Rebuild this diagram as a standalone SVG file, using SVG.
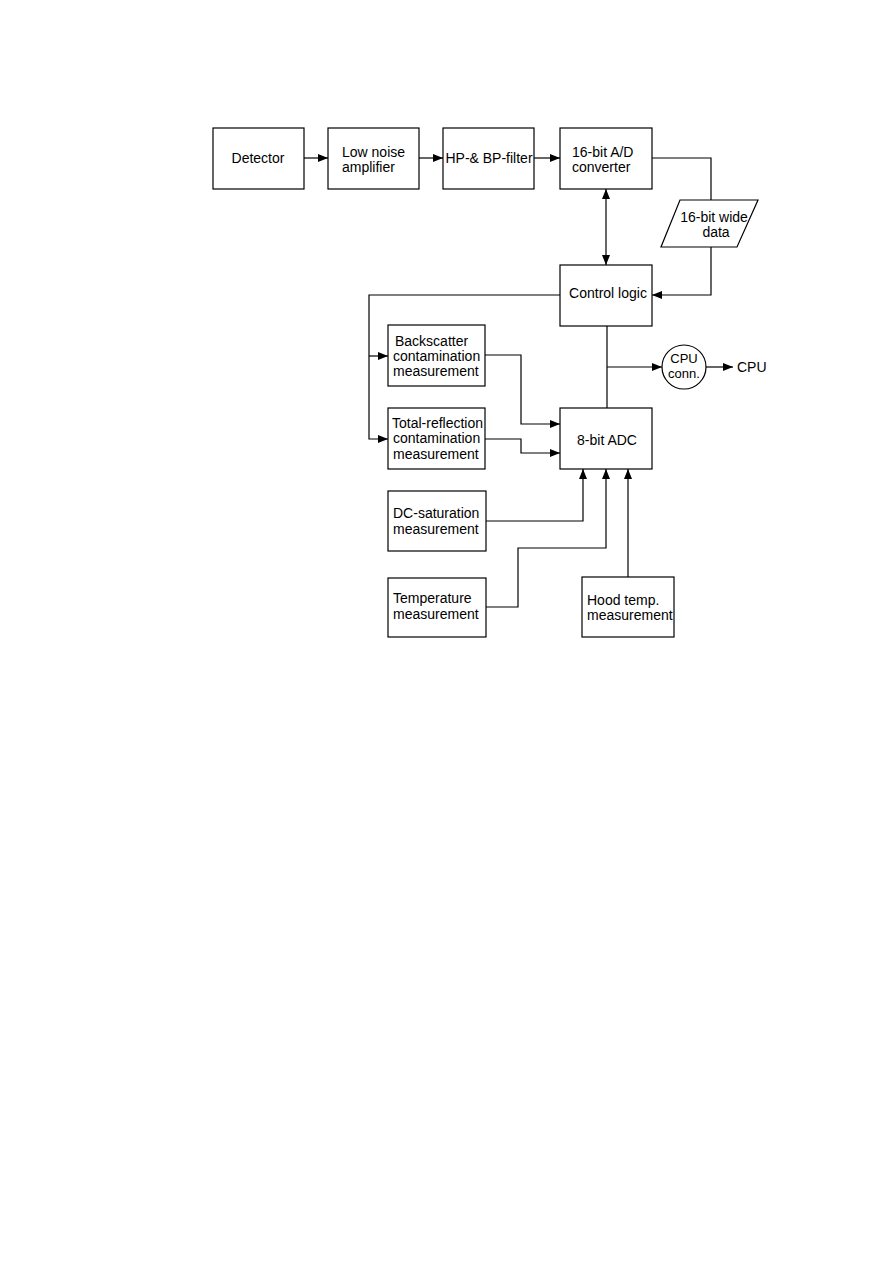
<svg xmlns="http://www.w3.org/2000/svg" width="893" height="1263" viewBox="0 0 893 1263">
<defs>
<marker id="ah" viewBox="0 0 10 8" refX="10" refY="4" markerWidth="10" markerHeight="8" markerUnits="userSpaceOnUse" orient="auto-start-reverse"><path d="M0,0 L10,4 L0,8 Z" fill="#000"/></marker>
<style>
rect,.box{fill:#fff;stroke:#000;stroke-width:1.2}
.c{fill:none;stroke:#000;stroke-width:1.2}
text{font-family:"Liberation Sans",Arial,sans-serif;font-size:14px;fill:#000}
.m{text-anchor:middle}
.s{font-size:13px}
</style>
</defs>
<rect width="893" height="1263" fill="#fff" style="stroke:none"/>
<g id="connectors">
<path class="c" d="M304,158 H328" marker-end="url(#ah)"/>
<path class="c" d="M419,158 H443" marker-end="url(#ah)"/>
<path class="c" d="M534,158 H560" marker-end="url(#ah)"/>
<path class="c" d="M652,158 H711 V200"/>
<path class="c" d="M711,247 V295 H652" marker-end="url(#ah)"/>
<path class="c" d="M606,189 V265" marker-start="url(#ah)" marker-end="url(#ah)"/>
<path class="c" d="M560,295 H369 V439 H388" marker-end="url(#ah)"/>
<path class="c" d="M369,356 H388" marker-end="url(#ah)"/>
<path class="c" d="M485,355 H521 V424 H560" marker-end="url(#ah)"/>
<path class="c" d="M485,439 H521 V453 H560" marker-end="url(#ah)"/>
<path class="c" d="M607,326 V408"/>
<path class="c" d="M607,367 H662" marker-end="url(#ah)"/>
<path class="c" d="M706,367 H733" marker-end="url(#ah)"/>
<path class="c" d="M486,521 H583 V469" marker-end="url(#ah)"/>
<path class="c" d="M486,607 H518 V548 H606 V469" marker-end="url(#ah)"/>
<path class="c" d="M628,577 V469" marker-end="url(#ah)"/>
</g>
<g id="detector"><rect x="213" y="128" width="91" height="61"/><text x="258" y="163" class="m">Detector</text></g>
<g id="lna"><rect x="328" y="128" width="91" height="61"/><text x="342" y="157">Low noise</text><text x="342" y="172">amplifier</text></g>
<g id="filter"><rect x="443" y="128" width="91" height="61"/><text x="489" y="163" class="m">HP-&amp; BP-filter</text></g>
<g id="adc16"><rect x="560" y="128" width="92" height="61"/><text x="572" y="157">16-bit A/D</text><text x="572" y="172">converter</text></g>
<g id="data"><path class="box" d="M680,200 H758 L737,247 H661 Z"/><text x="714" y="222" class="m">16-bit wide</text><text x="716" y="237" class="m">data</text></g>
<g id="control"><rect x="560" y="265" width="92" height="61"/><text x="608" y="298" class="m">Control logic</text></g>
<g id="backscatter"><rect x="388" y="325" width="97" height="61"/><text x="395" y="346">Backscatter</text><text x="393" y="361">contamination</text><text x="393" y="376">measurement</text></g>
<g id="totalreflection"><rect x="388" y="408" width="97" height="61"/><text x="392" y="428">Total-reflection</text><text x="393" y="443">contamination</text><text x="393" y="459">measurement</text></g>
<g id="adc8"><rect x="560" y="408" width="92" height="61"/><text x="607" y="445" class="m">8-bit ADC</text></g>
<g id="cpuconn"><circle cx="684" cy="367" r="22" class="box"/><text x="684" y="363" class="m s">CPU</text><text x="684" y="378" class="m s">conn.</text></g>
<g id="cpu"><text x="737" y="372">CPU</text></g>
<g id="dcsat"><rect x="388" y="491" width="98" height="60"/><text x="393" y="518">DC-saturation</text><text x="393" y="534">measurement</text></g>
<g id="temp"><rect x="388" y="578" width="98" height="59"/><text x="393" y="603">Temperature</text><text x="393" y="619">measurement</text></g>
<g id="hood"><rect x="582" y="577" width="92" height="60"/><text x="587" y="605">Hood temp.</text><text x="587" y="620">measurement</text></g>
</svg>
